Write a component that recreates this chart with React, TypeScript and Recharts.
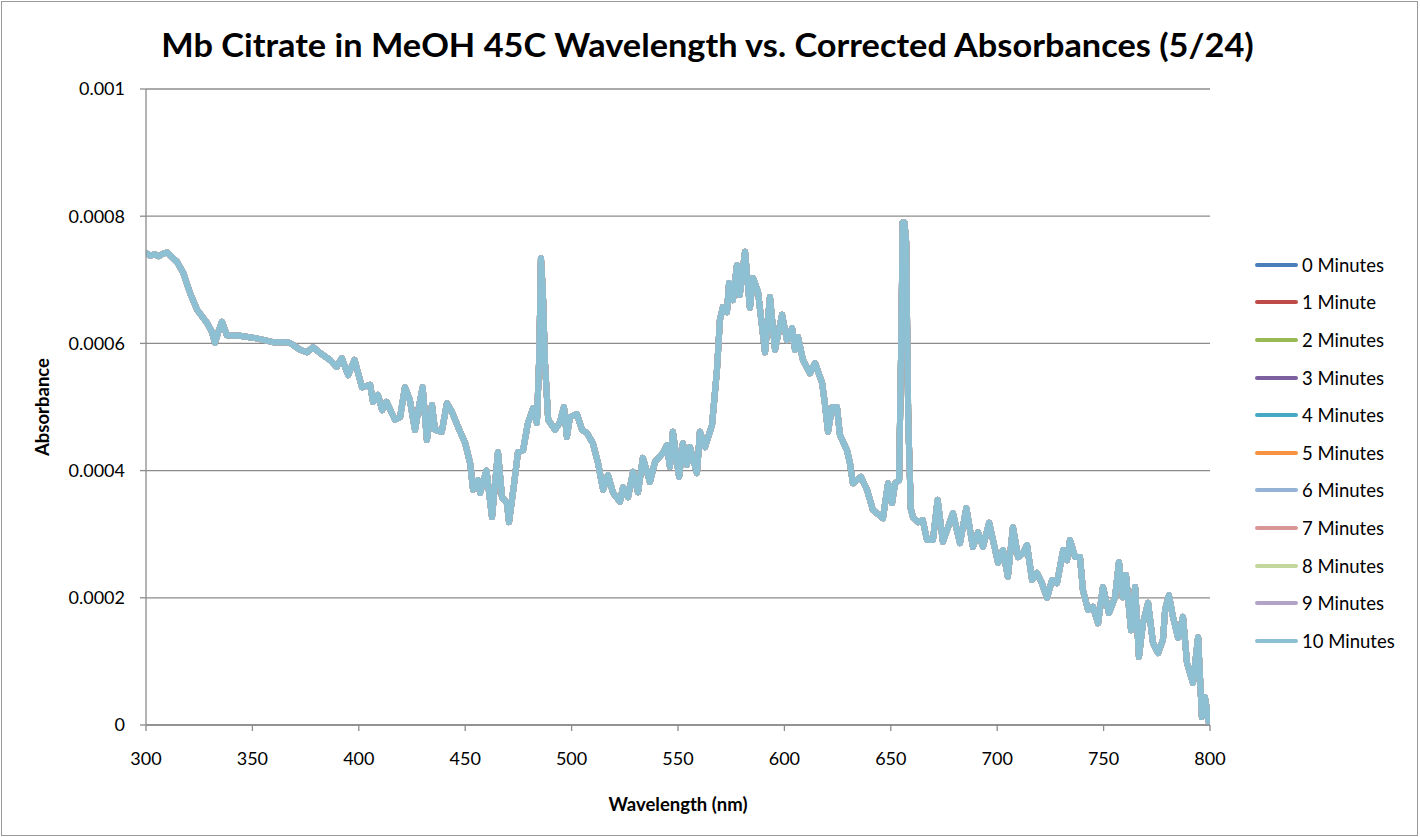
import React from 'react';
import { LineChart, Line, XAxis, YAxis, CartesianGrid, Legend } from 'recharts';

const wavelengths = [
  300, 302, 304, 306, 308, 310, 311.5, 314.6, 317.5, 320.7, 324, 328.7, 331, 332.4, 334, 335.7, 338, 344, 352, 359.7,
  366.7, 369, 372.4, 375.6, 378.6, 381.8, 386.5, 389.6, 392, 395, 398, 401.5, 405.3, 406.7, 409, 411, 413, 417, 419.4, 421.7,
  424, 426.4, 428.5, 430, 432, 434.4, 435.8, 439, 441.4, 443.8, 446.6, 450, 452.3, 453.7, 456, 457, 460, 462.6, 465.4, 467.3,
  469.6, 470.6, 473, 474.8, 477.2, 479.5, 481.9, 483.7, 484.8, 485.6, 486.5, 487.5, 489, 492.2, 494.5, 496.4, 497.8, 499.2, 502.5, 504.9,
  507.2, 510, 512.4, 514.8, 517.1, 519.5, 522.7, 524.2, 526.5, 528.9, 531.2, 533.5, 536.8, 539.2, 543, 544.8, 546.2, 547.6, 550.5, 552.3,
  554.2, 555.6, 558.9, 560.3, 562.7, 566, 568.3, 569.7, 571.1, 573, 574, 575.8, 577.7, 579, 581.5, 583.8, 585.2, 587.6, 590.9, 593.2,
  595.6, 598.9, 601.2, 603.6, 605, 606.4, 608.7, 612, 614.4, 617.7, 619, 620.5, 622.4, 624.7, 626.1, 629.4, 630.8, 632.2, 636, 638.8,
  641.6, 646.3, 648.7, 650.6, 652, 653.9, 654.9, 655.6, 656.4, 657.2, 658.2, 659.4, 660.4, 662.8, 665, 667, 669.8, 672, 674.5, 679.2,
  682.5, 685.5, 688.6, 691, 693.3, 696.2, 700.4, 702.7, 705, 707.4, 709.8, 712.1, 714, 716.4, 718.7, 721, 723.4, 725.8, 728.1, 731,
  732.8, 734.2, 736.6, 738.9, 740.3, 742.7, 745, 747.4, 749.7, 752.5, 755.4, 757.2, 759.1, 760.5, 762.9, 764.8, 766.6, 768.5, 770.9, 773.2,
  775.6, 777.9, 778.9, 780.7, 782.6, 785, 787.3, 789.2, 792, 794.4, 796.2, 797.6, 799.5, 800,
];

const absorbance = [
  0.000742, 0.000738, 0.00074, 0.000737, 0.000741, 0.000743, 0.000738, 0.000728, 0.000711, 0.000679, 0.000653, 0.000632, 0.000618, 0.000601, 0.000618, 0.000634, 0.000613, 0.000612, 0.000608, 0.000602,
  0.000602, 0.000598, 0.00059, 0.000586, 0.000594, 0.000585, 0.000574, 0.000563, 0.000577, 0.00055, 0.000574, 0.000531, 0.000535, 0.000508, 0.000519, 0.000495, 0.000508, 0.00048, 0.000484, 0.000531,
  0.000511, 0.000464, 0.000505, 0.000531, 0.000448, 0.000503, 0.000464, 0.000461, 0.000506, 0.000492, 0.000469, 0.000443, 0.000412, 0.00037, 0.000385, 0.000365, 0.0004, 0.000327, 0.000429, 0.000358,
  0.000349, 0.000319, 0.00038, 0.000429, 0.000432, 0.000475, 0.000498, 0.000475, 0.00058, 0.000734, 0.00068, 0.000569, 0.00048, 0.000464, 0.000476, 0.0005, 0.000453, 0.000484, 0.000489, 0.000464,
  0.000459, 0.000443, 0.000412, 0.00037, 0.000393, 0.000365, 0.000351, 0.000374, 0.000358, 0.000398, 0.000366, 0.00042, 0.000382, 0.000414, 0.000428, 0.00044, 0.000406, 0.000461, 0.00039, 0.000443,
  0.000409, 0.000437, 0.000396, 0.000461, 0.000437, 0.000472, 0.000558, 0.000637, 0.000657, 0.000649, 0.000695, 0.000668, 0.000723, 0.000676, 0.000744, 0.000656, 0.000703, 0.000681, 0.000586, 0.000673,
  0.00059, 0.000645, 0.000605, 0.000624, 0.00059, 0.00061, 0.000574, 0.000553, 0.000569, 0.000538, 0.000506, 0.000461, 0.0005, 0.0005, 0.000456, 0.000432, 0.000412, 0.00038, 0.00039, 0.00037,
  0.000338, 0.000325, 0.00038, 0.000349, 0.00038, 0.000385, 0.0006, 0.00079, 0.00079, 0.00076, 0.00048, 0.00034, 0.000327, 0.000319, 0.000322, 0.000291, 0.000291, 0.000354, 0.000288, 0.000333,
  0.000286, 0.000341, 0.00028, 0.000303, 0.00028, 0.000318, 0.000255, 0.000275, 0.000233, 0.000311, 0.000264, 0.00027, 0.000283, 0.000228, 0.000239, 0.000223, 0.0002, 0.000228, 0.000223, 0.000275,
  0.000259, 0.000291, 0.000264, 0.000264, 0.000212, 0.000181, 0.000186, 0.00016, 0.000217, 0.000176, 0.000201, 0.000256, 0.000201, 0.000236, 0.000149, 0.000217, 0.000107, 0.00016, 0.000192, 0.000129,
  0.000113, 0.000134, 0.000181, 0.000204, 0.00017, 0.000137, 0.00017, 0.0000975, 0.000066, 0.000138, 0.0000126, 0.000044, 0.000003, 0,
];

const seriesNames = [
  '0 Minutes', '1 Minute', '2 Minutes', '3 Minutes', '4 Minutes', '5 Minutes',
  '6 Minutes', '7 Minutes', '8 Minutes', '9 Minutes', '10 Minutes',
];

const seriesColors = [
  '#4A7EBB', '#BE4B48', '#98B954', '#7D60A0', '#46AAC5', '#F69240',
  '#95B3D7', '#D99694', '#C3D69B', '#B3A2C7', '#8EC0D3',
];

const xTicks = [300, 350, 400, 450, 500, 550, 600, 650, 700, 750, 800];
const yTicks = [0, 0.0002, 0.0004, 0.0006, 0.0008, 0.001];
const yTickLabels = ['0', '0.0002', '0.0004', '0.0006', '0.0008', '0.001'];

const data = wavelengths.map((wl, i) => {
  const row: Record<string, number> = { wl };
  seriesNames.forEach((name) => {
    row[name] = absorbance[i];
  });
  return row;
});

const FONT = 'Lato, "Open Sans", sans-serif';
const GRID = '#8c8c8c';
const Y_AXIS_W = 80;
const X_AXIS_H = 40;

function LegendContent(props: any) {
  const payload = [...(props.payload || [])].sort(
    (a: any, b: any) => seriesNames.indexOf(a.value) - seriesNames.indexOf(b.value)
  );
  return (
    <div style={{ fontFamily: FONT, fontSize: 18.5, color: '#000' }}>
      {payload.map((entry: any) => (
        <div key={entry.value} style={{ height: 37.6, display: 'flex', alignItems: 'center' }}>
          <span
            style={{
              display: 'inline-block',
              width: 43,
              height: 4,
              borderRadius: 2,
              background: entry.color,
            }}
          />
          <span style={{ marginLeft: 4, whiteSpace: 'nowrap' }}>{entry.value}</span>
        </div>
      ))}
    </div>
  );
}

export default function App() {
  return (
    <div style={{ position: 'absolute', left: 0, top: 0, width: 1420, height: 837, background: '#fff' }}>
      <div
        style={{
          position: 'absolute',
          left: 1,
          top: 1,
          width: 1417,
          height: 835,
          border: '1px solid #9a9a9a',
          boxSizing: 'border-box',
        }}
      />
      <div
        style={{
          position: 'absolute',
          left: 0,
          top: 24,
          width: 1415,
          textAlign: 'center',
          fontFamily: FONT,
          fontWeight: 700,
          fontSize: 33,
          lineHeight: '40px',
          color: '#000',
          whiteSpace: 'nowrap',
          transform: 'scaleX(1.04)',
          transformOrigin: '707px 0',
        }}
      >
        Mb Citrate in MeOH 45C Wavelength vs. Corrected Absorbances (5/24)
      </div>
      <LineChart
        width={1420}
        height={837}
        data={data}
        margin={{ top: 89, right: 210, bottom: 112 - X_AXIS_H, left: 146 - Y_AXIS_W }}
        style={{ position: 'absolute', left: 0, top: 0 }}
      >
        <CartesianGrid vertical={false} stroke={GRID} strokeWidth={1.3} />
        <XAxis
          dataKey="wl"
          type="number"
          domain={[300, 800]}
          ticks={xTicks}
          height={X_AXIS_H}
          allowDataOverflow
          interval={0}
          stroke={GRID}
          strokeWidth={1.3}
          tickSize={6}
          tickMargin={21}
          tick={{ fontFamily: FONT, fontSize: 18, fill: '#000' }}
          label={{
            value: 'Wavelength (nm)',
            position: 'bottom',
            offset: 73 - X_AXIS_H,
            style: { fontFamily: FONT, fontSize: 18.5, fontWeight: 700, fill: '#000' },
          }}
        />
        <YAxis
          type="number"
          domain={[0, 0.001]}
          ticks={yTicks}
          width={Y_AXIS_W}
          allowDataOverflow
          interval={0}
          stroke={GRID}
          strokeWidth={1.3}
          tickSize={6}
          tickMargin={15}
          tickFormatter={(v: number) => yTickLabels[yTicks.indexOf(v)] ?? String(v)}
          tick={{ fontFamily: FONT, fontSize: 18, fill: '#000' }}
          label={{
            value: 'Absorbance',
            angle: -90,
            position: 'left',
            offset: 103.5 - Y_AXIS_W,
            style: { fontFamily: FONT, fontSize: 18.5, fontWeight: 700, fill: '#000', textAnchor: 'middle' },
          }}
        />
        <Legend
          layout="vertical"
          align="center"
          verticalAlign="middle"
          content={<LegendContent />}
          wrapperStyle={{ left: 1255, top: 246, width: 165, height: 420 }}
        />
        {seriesNames.map((name, i) => (
          <Line
            key={name}
            dataKey={name}
            name={name}
            type="linear"
            stroke={seriesColors[i]}
            strokeWidth={6}
            strokeLinejoin="round"
            strokeLinecap="round"
            dot={false}
            activeDot={false}
            isAnimationActive={false}
          />
        ))}
      </LineChart>
    </div>
  );
}
